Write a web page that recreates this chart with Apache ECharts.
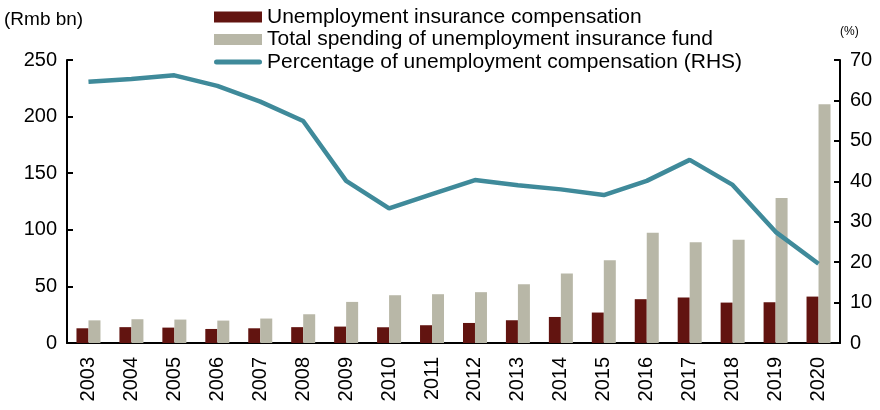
<!DOCTYPE html>
<html><head><meta charset="utf-8">
<script src="https://cdn.jsdelivr.net/npm/echarts@6/dist/echarts.min.js"></script>
<style>html,body{margin:0;padding:0;background:#fff}#c{width:880px;height:410px}</style>
</head><body><div id="c"></div>
<script>
const years = ['2003','2004','2005','2006','2007','2008','2009','2010','2011','2012','2013','2014','2015','2016','2017','2018','2019','2020'];
const compensation = [13, 14, 13.6, 12.4, 13, 14, 14.5, 13.9, 15.7, 17.7, 20.1, 23, 26.9, 38.7, 40.2, 35.7, 36, 41];
const totalSpending = [20, 21, 20.7, 19.8, 21.6, 25.4, 36.3, 42.2, 43.1, 44.9, 51.9, 61.4, 73.2, 97.3, 89.1, 91.2, 128, 211];
const percentage = [64.6, 65.3, 66.2, 63.6, 59.7, 54.9, 40.1, 33.3, 36.8, 40.3, 39.0, 38.0, 36.6, 40.1, 45.3, 39.1, 27.5, 19.6];

const FONT = '"Liberation Sans", Arial, sans-serif';
const ch = echarts.init(document.getElementById('c'));
ch.setOption({
  animation: false,
  textStyle: {fontFamily: FONT, color: '#000'},
  grid: {left: 67, right: 40, top: 60, bottom: 67},
  legend: {
    orient: 'vertical', left: 209, top: 1, itemWidth: 48, itemHeight: 11, itemGap: 0.5,
    textStyle: {fontFamily: FONT, fontSize: 21, color: '#000', lineHeight: 22},
    data: [
      {name: 'Unemployment insurance compensation', icon: 'rect'},
      {name: 'Total spending of unemployment insurance fund', icon: 'rect'},
      {name: 'Percentage of unemployment compensation (RHS)',
       icon: 'path://M0,0 M0,11 M2.5,3 L45.5,3 A2.5,2.5 0 0 1 45.5,8 L2.5,8 A2.5,2.5 0 0 1 2.5,3 Z'}
    ]
  },
  graphic: [
    {type: 'text', left: 4, top: 10, style: {text: '(Rmb bn)', font: '19px ' + FONT, fill: '#000'}},
    {type: 'text', left: 840, top: 26, style: {text: '(%)', font: '12px ' + FONT, fill: '#000'}}
  ],
  xAxis: {
    type: 'category', data: years,
    axisLine: {lineStyle: {color: '#000', width: 2}},
    axisTick: {inside: true, length: 6, lineStyle: {color: '#000', width: 2}},
    axisLabel: {rotate: 90, fontFamily: FONT, fontSize: 20, color: '#000', margin: 14}
  },
  yAxis: [
    {type: 'value', min: 0, max: 250, interval: 50,
     axisLine: {show: true, lineStyle: {color: '#000', width: 2}},
     axisTick: {show: true, inside: true, length: 6, lineStyle: {color: '#000', width: 2}},
     axisLabel: {fontFamily: FONT, fontSize: 20, color: '#000', margin: 10},
     splitLine: {show: false}},
    {type: 'value', min: 0, max: 70, interval: 10,
     axisLine: {show: true, lineStyle: {color: '#000', width: 2}},
     axisTick: {show: true, inside: true, length: 6, lineStyle: {color: '#000', width: 2}},
     axisLabel: {fontFamily: FONT, fontSize: 20, color: '#000', margin: 10},
     splitLine: {show: false}}
  ],
  series: [
    {name: 'Unemployment insurance compensation', type: 'bar', data: compensation,
     barWidth: 12, barGap: '0%', itemStyle: {color: '#621410'}},
    {name: 'Total spending of unemployment insurance fund', type: 'bar', data: totalSpending,
     barWidth: 12, barGap: '0%', itemStyle: {color: '#b8b7a7'}},
    {name: 'Percentage of unemployment compensation (RHS)', type: 'line', yAxisIndex: 1, data: percentage,
     symbol: 'none', lineStyle: {color: '#3f8a9a', width: 4.5}, itemStyle: {color: '#3f8a9a'}}
  ]
});
</script></body></html>
